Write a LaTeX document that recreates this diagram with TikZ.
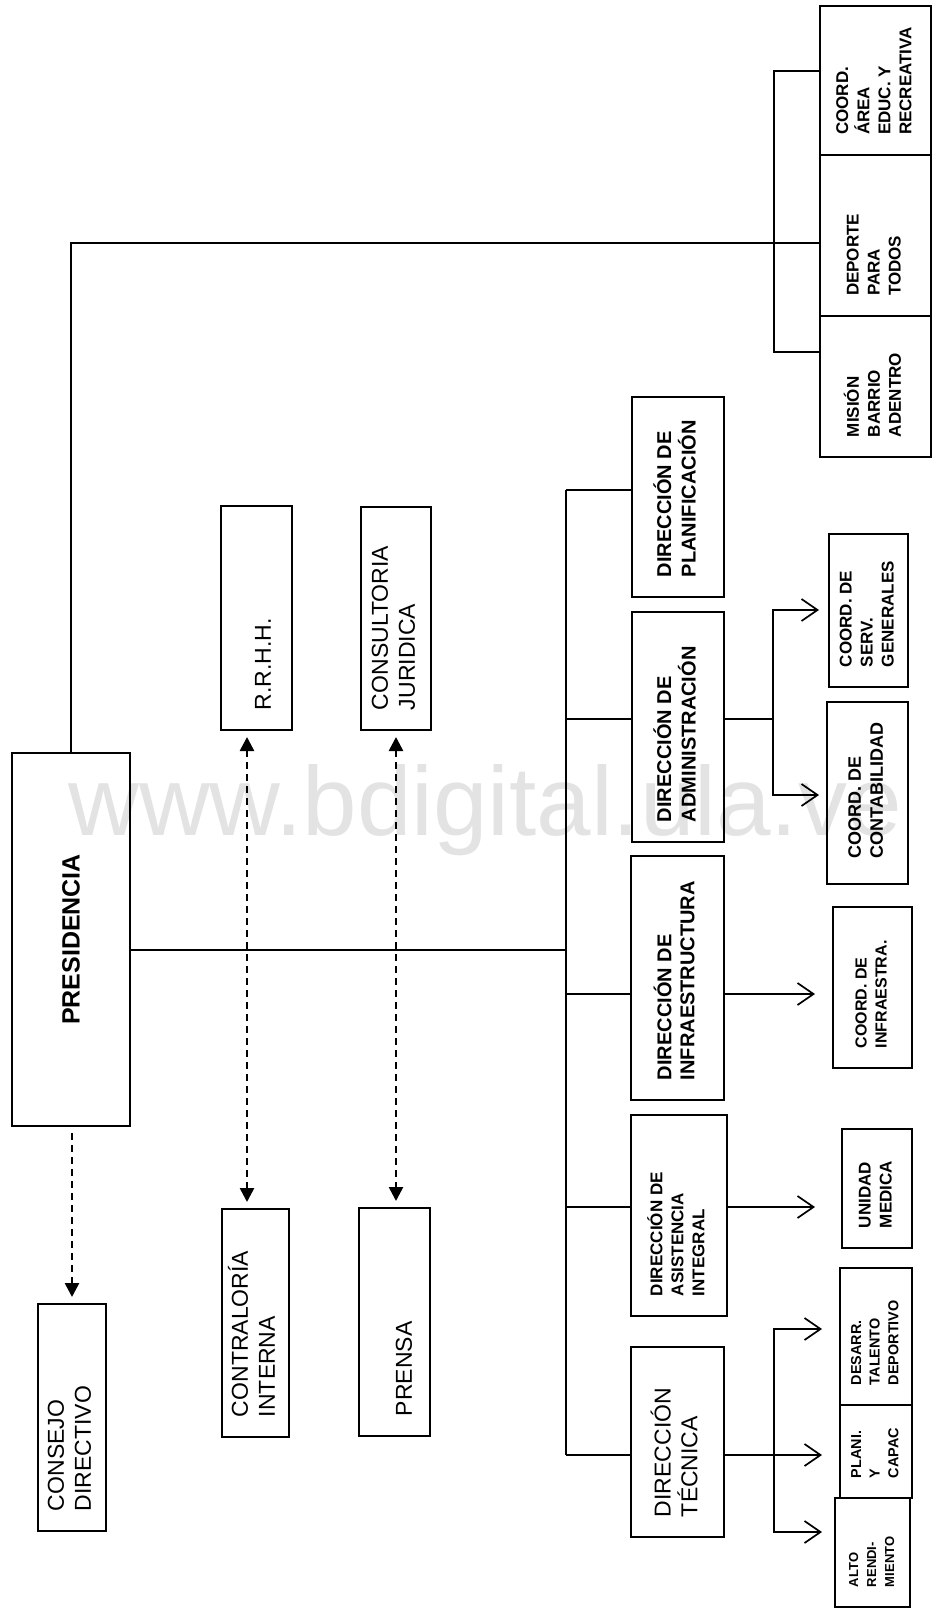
\documentclass[tikz,border=0pt]{standalone}
\usepackage{fontspec}
\setmainfont{Liberation Sans}
\usepackage{graphicx}
\usetikzlibrary{arrows.meta}
\newcommand{\vtxt}[2]{\rotatebox{90}{\makebox[\dimexpr(#1pt-40pt)/2\relax][l]{\begin{tabular}{@{}l@{}}#2\end{tabular}}}}
\begin{document}
\begin{tikzpicture}[x = 0.5pt, y = -0.5pt,
	unit/.style = {draw, line width = 1pt, inner sep = 0pt},
	wh/.style 2 args = {minimum width = #1*0.5pt, minimum height = #2*0.5pt},
	reg/.style = {font = \fontsize{11.5}{13.5}\selectfont},
	dir/.style = {font = \bfseries\fontsize{10}{11.5}\selectfont},
	sub/.style = {font = \bfseries\fontsize{8.5}{10.5}\selectfont},
	mini/.style = {font = \bfseries\fontsize{7.2}{9.3}\selectfont},
	link/.style = {line width = 0.85pt},
	arr/.style = {line width = 0.85pt, -{Straight Barb[length = 8pt, width = 11pt]}, shorten >= #1},
	arr/.default = 6pt,
	dsh/.style = {line width = 1.3pt, dash pattern = on 3.5pt off 2.5pt, shorten <= 3pt, shorten >= 3pt},
	> = {Triangle[length = 7pt, width = 7pt]}]
	\useasboundingbox (0, 0) rectangle (933, 1610);
	\node[anchor = base west, inner sep = 0pt, text = black!11, font = \fontsize{49}{52}\selectfont] (marca) at (68, 835) {www.bdigital.ula.ve};
	\node[unit, wh = {118}{373}, font = \bfseries\fontsize{12.5}{15}\selectfont] (pres) at (71, 939.5) {\rotatebox{90}{PRESIDENCIA}};
	\node[unit, reg, wh = {68}{227}] (cons) at (72, 1417.5) {\vtxt{227}{CONSEJO\\DIRECTIVO}};
	\node[unit, reg, wh = {71}{224}] (rrhh) at (256.5, 618) {\hspace*{9pt}\vtxt{224}{R.R.H.H.}};
	\node[unit, reg, wh = {70}{223}] (jur) at (396, 618.5) {\vtxt{223}{CONSULTORIA\\JURIDICA}};
	\node[unit, reg, wh = {67}{228}] (contr) at (255.5, 1323) {\vtxt{228}{CONTRALORÍA\\INTERNA}};
	\node[unit, reg, wh = {71}{228}] (prensa) at (394.5, 1322) {\hspace*{12pt}\vtxt{228}{PRENSA}};
	\node[unit, dir, wh = {92}{200}] (plan) at (678, 497) {\vtxt{200}{DIRECCIÓN DE\\PLANIFICACIÓN}};
	\node[unit, dir, wh = {92}{230}] (admin) at (678, 727) {\vtxt{230}{DIRECCIÓN DE\\ADMINISTRACIÓN}};
	\node[unit, dir, wh = {93}{244}] (infra) at (677.5, 978) {\vtxt{244}{DIRECCIÓN DE\\INFRAESTRUCTURA}};
	\node[unit, sub, wh = {96}{201}] (asist) at (679, 1215.5) {\vtxt{201}{DIRECCIÓN DE\\ASISTENCIA\\INTEGRAL}};
	\node[unit, font = \fontsize{11.5}{11.5}\selectfont, wh = {93}{190}] (tec) at (677.5, 1442) {\vtxt{190}{DIRECCIÓN\\TÉCNICA}};
	\node[unit, sub, wh = {79}{153}] (serv) at (868.5, 610.5) {\vtxt{153}{COORD. DE\\SERV.\\GENERALES}};
	\node[unit, font = \bfseries\fontsize{9}{11}\selectfont, wh = {81}{182}] (cont) at (867.5, 793) {\vtxt{170}{COORD. DE\\CONTABILIDAD}};
	\node[unit, font = \bfseries\fontsize{8}{10}\selectfont, wh = {79}{161}] (cinf) at (872.5, 987.5) {\vtxt{161}{COORD. DE\\INFRAESTRA.}};
	\node[unit, sub, wh = {70}{119}] (med) at (877, 1188.5) {\vtxt{119}{UNIDAD\\MEDICA}};
	\node[unit, mini, wh = {72}{137}] (tal) at (876, 1336.5) {\vtxt{137}{DESARR.\\TALENTO\\DEPORTIVO}};
	\node[unit, mini, wh = {72}{93}] (capac) at (876, 1451.5) {\vtxt{93}{PLANI.\\Y\\CAPAC}};
	\node[unit, font = \bfseries\fontsize{6.5}{9}\selectfont, wh = {75}{109}] (alto) at (872.5, 1552.5) {\vtxt{109}{ALTO\\RENDI-\\MIENTO}};
	\foreach \n/\y/\h/\t in {area/80.5/149/{COORD.\\ÁREA\\EDUC. Y\\RECREATIVA}, dep/235.5/161/{DEPORTE\\PARA\\TODOS}, mis/386.5/141/{MISIÓN\\BARRIO\\ADENTRO}}{
		\node[unit, sub, wh = {111}{\h}] (\n) at (875.5, \y) {\vtxt{\h}{\t}};}
	\coordinate (bustop) at (566, 490);
	\coordinate (busbot) at (566, 1455);
	\draw[link] (bustop) -- (busbot);
	\draw[link] (pres.east |- 0,950) -- (bustop |- 0,950);
	\foreach \n/\y in {plan/490, admin/719, infra/994, asist/1207, tec/1455}{
		\draw[link] (bustop |- 0,\y) -- (\n.west |- 0,\y);}
	\coordinate (brk) at (774, 243);
	\draw[link] (pres.north) |- (dep.west |- brk);
	\draw[link] (area.west |- 0,71) -| (brk) |- (mis.west |- 0,352);
	\draw[arr = 13pt] (asist.east |- 0,1207) -- (med.west |- 0,1207);
	\draw[arr = 8.5pt] (infra.east |- 0,994) -- (cinf.west |- 0,994);
	\coordinate (abr) at (773, 719);
	\draw[link] (admin.east |- abr) -- (abr);
	\draw[arr = 4.5pt] (abr) |- (serv.west |- 0,610);
	\draw[arr = 3.5pt] (abr) |- (cont.west |- 0,795);
	\coordinate (tbr) at (774, 1455);
	\draw[arr = 8.5pt] (tec.east |- tbr) -- (capac.west |- tbr);
	\draw[arr = 8.5pt] (tbr) |- (tal.west |- 0,1329);
	\draw[arr = 6pt] (tbr) |- (alto.west |- 0,1532);
	\coordinate (rr) at ([xshift = -4.75pt]rrhh.south);
	\draw[dsh, ->] (cons.north |- pres.south) -- (cons.north);
	\draw[dsh, <->] (rr) -- (rr |- contr.north);
	\draw[dsh, <->] (jur.south) -- (jur.south |- prensa.north);
\end{tikzpicture}
\end{document}
